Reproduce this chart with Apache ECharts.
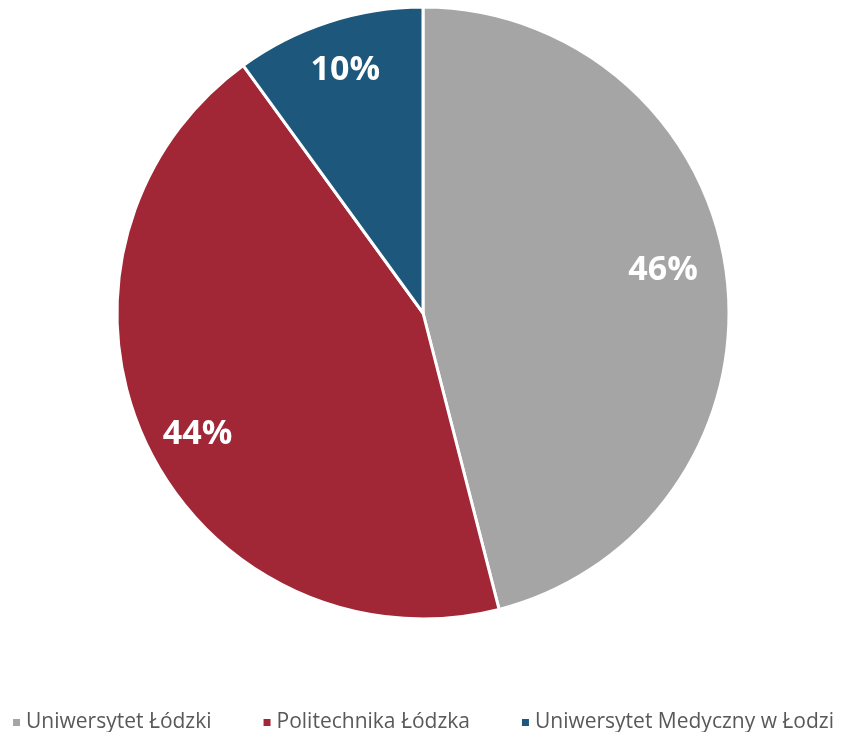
<!DOCTYPE html>
<html><head><meta charset="utf-8">
<script src="https://cdn.jsdelivr.net/npm/echarts@6/dist/echarts.min.js"></script>
<style>html,body{margin:0;padding:0;background:#fff}#c{width:845px;height:732px}</style>
</head><body><div id="c"></div>
<script>
const categories = ['Uniwersytet Łódzki', 'Politechnika Łódzka', 'Uniwersytet Medyczny w Łodzi'];
const values = [46, 44, 10];
const colors = ['#A5A5A5', '#A12736', '#1D577B'];
const labelOffsets = [[-6, -12], [-1, 16], [-1, -7]];

const data = categories.map((n, i) => ({ name: n, value: values[i], itemStyle: { color: colors[i] } }));
const chart = echarts.init(document.getElementById('c'));
chart.setOption({
  animation: false,
  legend: {
    top: 707, left: 'center',
    icon: 'rect', itemWidth: 9, itemHeight: 9, itemGap: 50,
    textStyle: { fontFamily: 'Open Sans', fontSize: 21, color: '#595959' },
    data: categories
  },
  series: [
    {
      type: 'pie', center: [423, 313], radius: [0, 306],
      startAngle: 90, clockwise: true,
      itemStyle: { borderColor: '#fff', borderWidth: 3 },
      label: { show: false }, labelLine: { show: false },
      data: data
    },
    {
      type: 'pie', center: [423, 313], radius: [184, 306],
      startAngle: 90, clockwise: true, silent: true,
      legendHoverLink: false,
      itemStyle: { color: 'rgba(0,0,0,0)', borderWidth: 0 },
      label: { show: true, position: 'inside', formatter: '{c}%', color: '#fff',
               fontFamily: 'Open Sans', fontWeight: 'bold', fontSize: 34 },
      labelLine: { show: false },
      data: categories.map((n, i) => ({ name: n, value: values[i], label: { offset: labelOffsets[i] } }))
    }
  ]
});
</script></body></html>
